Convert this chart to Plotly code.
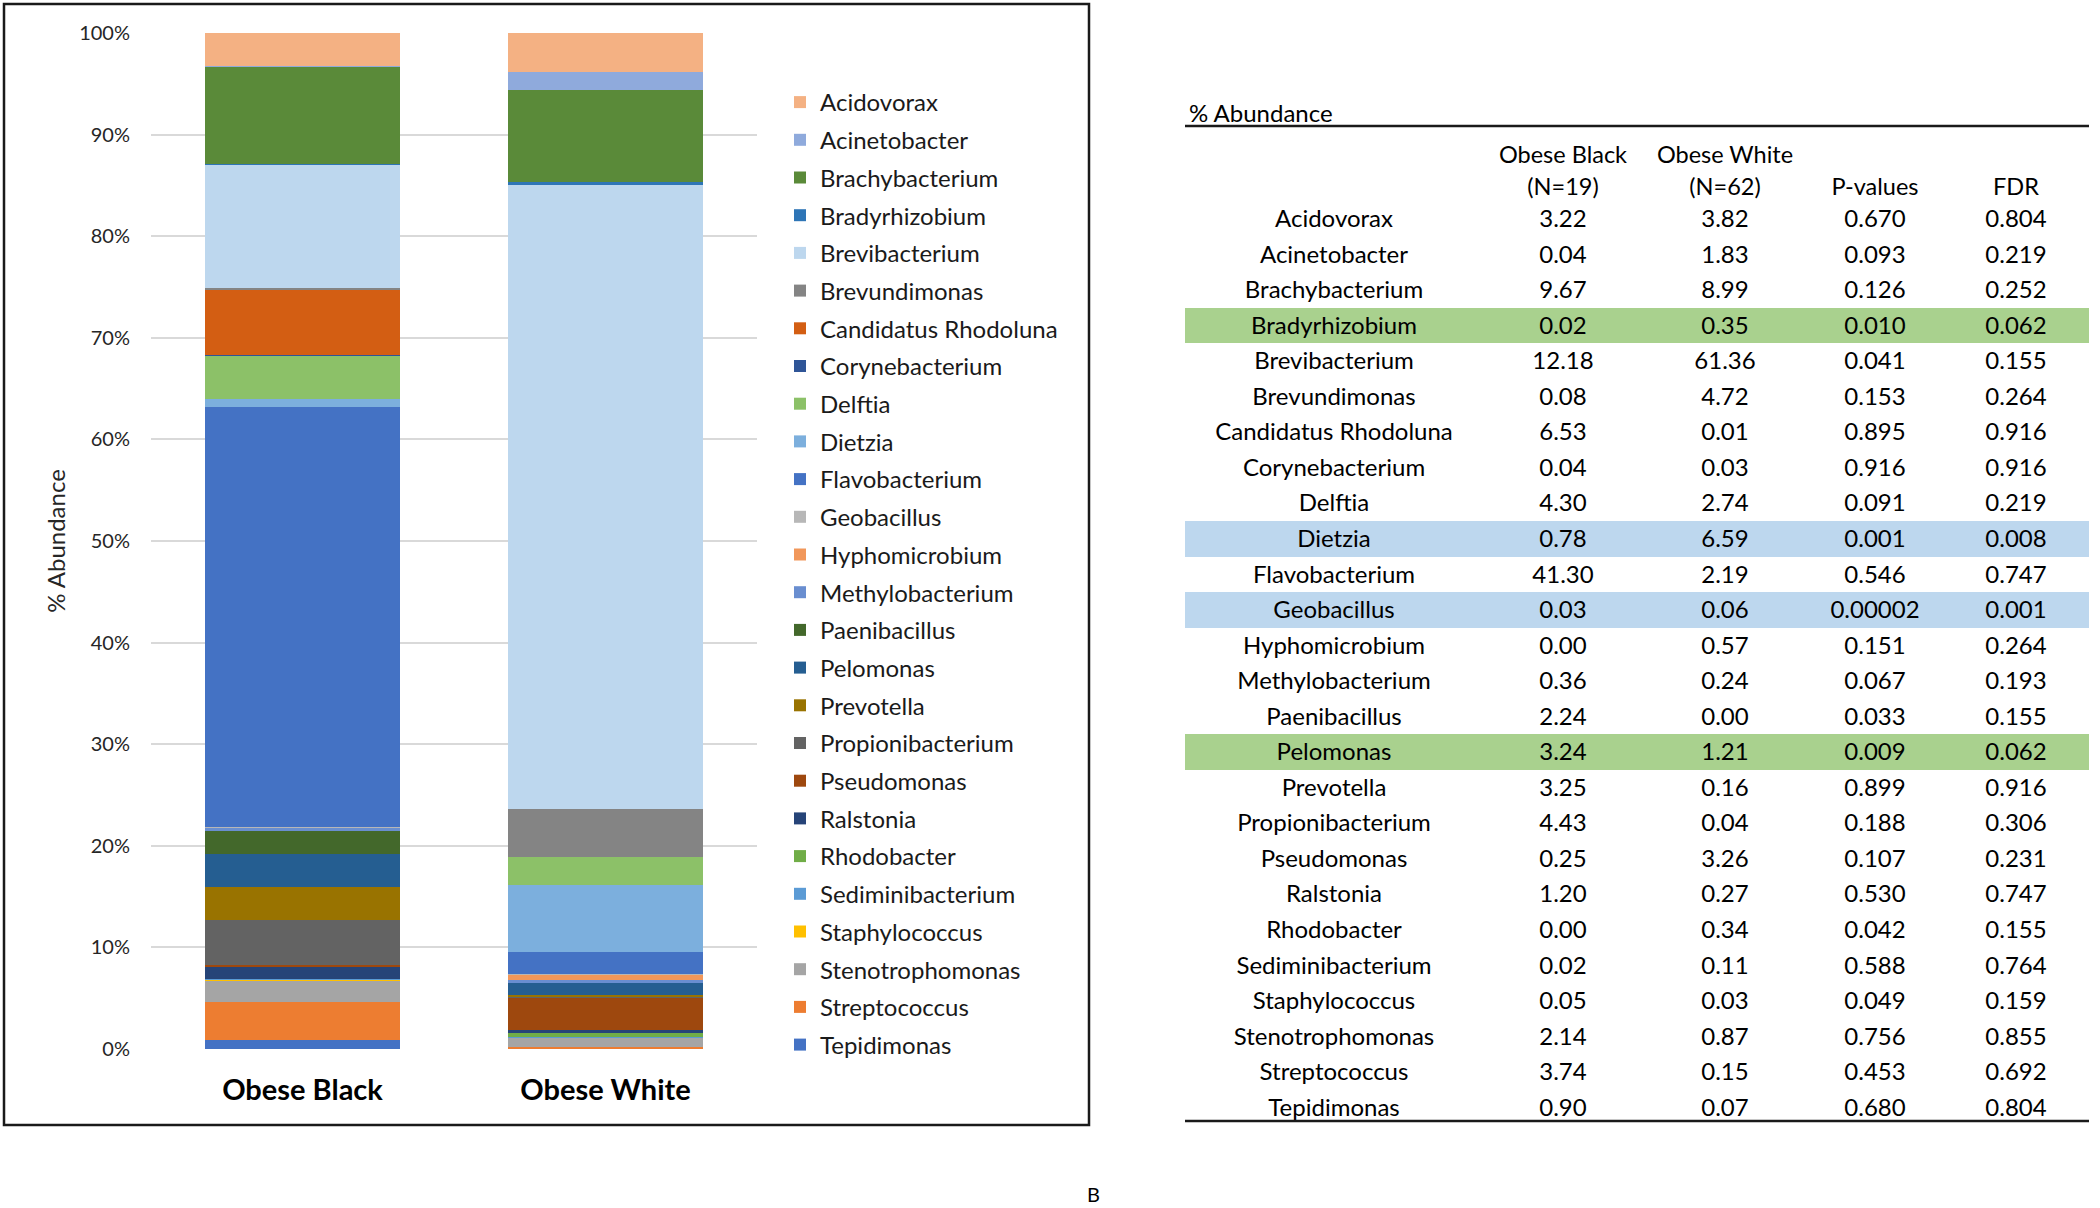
import plotly.graph_objects as go

W, H = 2100, 1208

# ---------------- data ----------------
genera = ["Acidovorax", "Acinetobacter", "Brachybacterium", "Bradyrhizobium",
          "Brevibacterium", "Brevundimonas", "Candidatus Rhodoluna", "Corynebacterium",
          "Delftia", "Dietzia", "Flavobacterium", "Geobacillus", "Hyphomicrobium",
          "Methylobacterium", "Paenibacillus", "Pelomonas", "Prevotella",
          "Propionibacterium", "Pseudomonas", "Ralstonia", "Rhodobacter",
          "Sediminibacterium", "Staphylococcus", "Stenotrophomonas",
          "Streptococcus", "Tepidimonas"]
groups = ["Obese Black", "Obese White"]
group_sizes = ["(N=19)", "(N=62)"]
obese_black = [3.22, 0.04, 9.67, 0.02, 12.18, 0.08, 6.53, 0.04, 4.30, 0.78, 41.30,
               0.03, 0.00, 0.36, 2.24, 3.24, 3.25, 4.43, 0.25, 1.20, 0.00, 0.02,
               0.05, 2.14, 3.74, 0.90]
obese_white = [3.82, 1.83, 8.99, 0.35, 61.36, 4.72, 0.01, 0.03, 2.74, 6.59, 2.19,
               0.06, 0.57, 0.24, 0.00, 1.21, 0.16, 0.04, 3.26, 0.27, 0.34, 0.11,
               0.03, 0.87, 0.15, 0.07]
p_values = [0.670, 0.093, 0.126, 0.010, 0.041, 0.153, 0.895, 0.916, 0.091, 0.001,
            0.546, 0.00002, 0.151, 0.067, 0.033, 0.009, 0.899, 0.188, 0.107, 0.530,
            0.042, 0.588, 0.049, 0.756, 0.453, 0.680]
fdr = [0.804, 0.219, 0.252, 0.062, 0.155, 0.264, 0.916, 0.916, 0.219, 0.008, 0.747,
       0.001, 0.264, 0.193, 0.155, 0.062, 0.916, 0.306, 0.231, 0.747, 0.155, 0.764,
       0.159, 0.855, 0.692, 0.804]
colors = ["#F4B183", "#8FAADC", "#5A8A39", "#2E75B6", "#BDD7EE", "#848484",
          "#D35E13", "#2F5597", "#8CC168", "#7CAFDD", "#4472C4", "#B7B7B7",
          "#F1975A", "#698ED0", "#43682B", "#255E91", "#997300", "#636363",
          "#9E480E", "#264478", "#70AD47", "#5B9BD5", "#FFC000", "#A5A5A5",
          "#ED7D31", "#4472C4"]
y_ticks = [0, 10, 20, 30, 40, 50, 60, 70, 80, 90, 100]
y_tick_labels = [f"{v}%" for v in y_ticks]

FONT = "Lato"
TXT = "#262626"


def fx(px):
    return px / W


def fy(py):
    return 1 - py / H


fig = go.Figure()

# stacked bars: last genus at the bottom, first at the top (Excel order)
n = len(genera)
for i in reversed(range(n)):
    fig.add_trace(go.Bar(
        x=groups, y=[obese_black[i], obese_white[i]], name=genera[i],
        marker=dict(color=colors[i], line=dict(width=0)),
        legendgroup=genera[i], legendrank=i + 1,
        xaxis="x", yaxis="y"))

# ---------------- table ----------------
def fmt_p(v):
    return f"{v:.3f}" if v >= 0.001 else f"{v:.5f}"


row_fill = []
for f in fdr:
    if f < 0.05:
        row_fill.append("#BDD7EE")
    elif f < 0.1:
        row_fill.append("#A9D18E")
    else:
        row_fill.append("rgba(0,0,0,0)")

cols = [genera,
        [f"{v:.2f}" for v in obese_black],
        [f"{v:.2f}" for v in obese_white],
        [fmt_p(v) for v in p_values],
        [f"{v:.3f}" for v in fdr]]

header_vals = [["", ""],
               [groups[0], group_sizes[0]],
               [groups[1], group_sizes[1]],
               ["", "P-values"],
               ["", "FDR"]]

fig.add_trace(go.Table(
    domain=dict(x=[fx(1185), fx(2089)], y=[fy(1131), fy(137)]),
    columnwidth=[298, 160, 164, 136, 146],
    header=dict(values=header_vals,
                align="center", height=32,
                font=dict(family=FONT, size=23.5, color="#000000"),
                fill=dict(color="rgba(0,0,0,0)"),
                line=dict(width=0, color="rgba(0,0,0,0)")),
    cells=dict(values=cols, align="center", height=35.55,
               font=dict(family=FONT, size=24, color="#000000"),
               fill=dict(color=[row_fill] * 5),
               line=dict(width=0, color="rgba(0,0,0,0)")),
))

fig.update_layout(
    width=W, height=H,
    margin=dict(l=0, r=0, t=0, b=0, autoexpand=False),
    paper_bgcolor="white", plot_bgcolor="white",
    barmode="stack", bargap=0.356,
    font=dict(family=FONT, color=TXT),
    xaxis=dict(domain=[fx(151), fx(757)], showgrid=False, showline=False,
               ticks="", ticklabelstandoff=21,
               tickfont=dict(family=FONT, size=29, color="#000000", weight="bold")),
    yaxis=dict(domain=[fy(1049), fy(33)], range=[0, 100], tickvals=y_ticks,
               ticktext=y_tick_labels, showgrid=True, gridcolor="#D9D9D9", gridwidth=1.5,
               zeroline=False, showline=False, ticks="", ticklabelstandoff=20,
               tickfont=dict(family=FONT, size=20, color=TXT),
               title=dict(text="% Abundance", standoff=6,
                          font=dict(family=FONT, size=24, color=TXT))),
    legend=dict(x=fx(780), y=fy(80),
                xanchor="left", yanchor="top", traceorder="grouped",
                tracegroupgap=3.5, bgcolor="rgba(0,0,0,0)",
                font=dict(family=FONT, size=24, color="#1a1a1a")),
    showlegend=True,
    shapes=[
        dict(type="rect", xref="paper", yref="paper", x0=fx(4), x1=fx(1089),
             y0=fy(1125), y1=fy(4), line=dict(color="#1a1a1a", width=2.5),
             fillcolor="rgba(0,0,0,0)", layer="below"),
        dict(type="line", xref="paper", yref="paper", x0=fx(1185), x1=fx(2089),
             y0=fy(126), y1=fy(126), line=dict(color="#1a1a1a", width=2.5)),
        dict(type="line", xref="paper", yref="paper", x0=fx(1185), x1=fx(2089),
             y0=fy(1121), y1=fy(1121), line=dict(color="#1a1a1a", width=2.5)),
    ],
    annotations=[
        dict(text="% Abundance", xref="paper", yref="paper", x=fx(1187), y=fy(112),
             xanchor="left", yanchor="middle", showarrow=False,
             font=dict(family=FONT, size=24, color="#000000")),
        dict(text="B", xref="paper", yref="paper", x=fx(1093), y=fy(1194),
             xanchor="center", yanchor="middle", showarrow=False, borderpad=0,
             font=dict(family=FONT, size=20, color="#000000")),
    ],
)

fig.write_html("out.html", config={"displayModeBar": False},
               post_script="document.body.style.margin='0';document.body.style.overflow='hidden';")
